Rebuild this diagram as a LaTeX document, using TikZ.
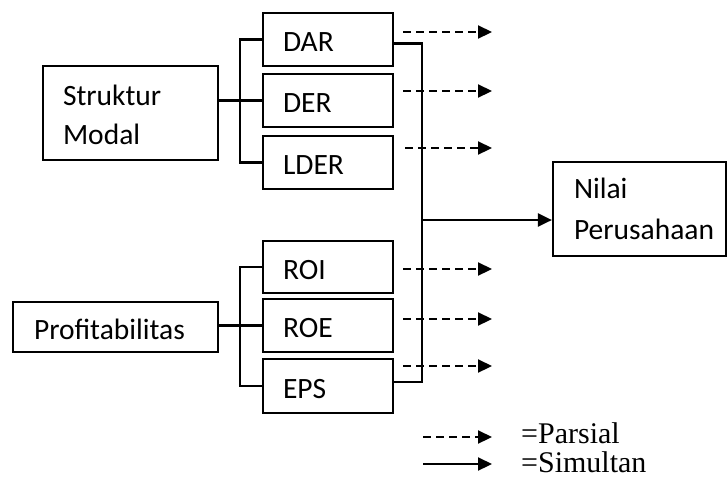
\documentclass[tikz,border=0pt]{standalone}
\usepackage{fontspec}
\setmainfont{Carlito}
\newfontfamily\legfont{Liberation Serif}
\usetikzlibrary{arrows.meta}
\tikzset{
  x=1pt, y=-1pt,
  box/.style={draw, line width=2.2pt, inner ysep=0pt, inner xsep=20pt,
    align=left, font=\fontsize{29.5}{39.5}\selectfont},
  onebox/.style={box, text height=24pt, text depth=0pt},
  conn/.style={line width=2.2pt},
  tip/.style={-{Triangle[length=14pt,width=13pt]}},
  part/.style={conn, tip, dash pattern=on 8pt off 5pt},
  simul/.style={conn, tip},
  legtext/.style={anchor=base west, inner sep=0pt, font=\legfont\fontsize{30}{34}\selectfont}
}
\begin{document}
\begin{tikzpicture}
\useasboundingbox (0,0) rectangle (728,483);
% boxes
\node[onebox, text width=90pt, minimum height=53pt] (dar) at (328,39.5) {DAR};
\node[onebox, text width=90pt, minimum height=53pt] (der) at (328,100.5) {DER};
\node[onebox, text width=90pt, minimum height=53pt] (ldr) at (328,162.5) {LDER};
\node[onebox, text width=90pt, minimum height=52pt] (roi) at (328,267) {ROI};
\node[onebox, text width=90pt, minimum height=53pt] (roe) at (328,325.5) {ROE};
\node[onebox, text width=90pt, minimum height=54pt] (eps) at (328,386) {EPS};
\node[box, text width=135pt, minimum height=94pt, text height=20pt, text depth=36pt] (sm) at (130.5,113) {Struktur\\Modal};
\node[onebox, text width=163pt, inner xsep=21pt, minimum height=50pt] (pr) at (115.5,327) {Profitabilitas};
\node[box, text width=131pt, inner xsep=21pt, minimum height=94pt, text height=18pt, text depth=40pt, font=\fontsize{29.5}{41}\selectfont] (np) at (639.5,209) {Nilai\\Perusahaan};
% left brackets
\coordinate (lb) at (240,0);
\draw[conn] (dar.west) -| (lb |- ldr.west) -- (ldr.west);
\draw[conn] (sm.east |- der.west) -- (der.west);
\draw[conn] (roi.west) -| (lb |- eps.west) -- (eps.west);
\draw[conn] (pr.east |- roe.west) -- (roe.west);
% trunk
\coordinate (tr) at (422,220);
\draw[conn] ([yshift=-4pt]dar.east) -| (tr) |- ([yshift=4pt]eps.east);
\draw[simul] (tr) -- (tr -| np.west);
% partial arrows
\coordinate (a1) at (403,32);  \coordinate (b1) at (492,32);
\coordinate (a2) at (403,91);  \coordinate (b2) at (492,91);
\coordinate (a3) at (405,148); \coordinate (b3) at (492,148);
\coordinate (a4) at (403,269); \coordinate (b4) at (492,269);
\coordinate (a5) at (403,319); \coordinate (b5) at (492,319);
\coordinate (a6) at (403,366); \coordinate (b6) at (492,366);
\draw[part] (a1) -- (b1);
\draw[part] (a2) -- (b2);
\draw[part] (a3) -- (b3);
\draw[part] (a4) -- (b4);
\draw[part] (a5) -- (b5);
\draw[part] (a6) -- (b6);
% legend
\coordinate (la) at (423,437); \coordinate (lae) at (492,437);
\coordinate (lc) at (423,464); \coordinate (lce) at (492,464);
\draw[part] (la) -- (lae);
\draw[simul] (lc) -- (lce);
\node[legtext] (lp) at (521,443) {=Parsial};
\node[legtext] (ls) at (521,472) {=Simultan};
\end{tikzpicture}
\end{document}
